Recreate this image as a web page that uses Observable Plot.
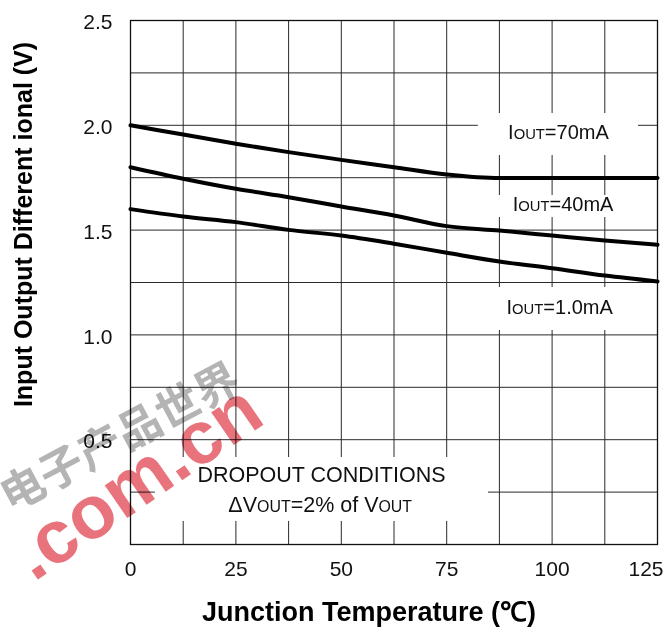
<!DOCTYPE html>
<html><head><meta charset="utf-8">
<script src="https://cdn.jsdelivr.net/npm/d3@7"></script>
<script src="https://cdn.jsdelivr.net/npm/@observablehq/plot@0.6"></script>
<style>
body{margin:0;background:#fff;}
svg{display:block;}
</style>
</head><body><div id="chart"></div>
<script>
// ---- data ----
const temps  = [0, 12.5, 25, 37.5, 50, 62.5, 75, 87.5, 100, 112.5, 125];
const iout70 = [2.00, 1.956, 1.912, 1.872, 1.835, 1.800, 1.765, 1.748, 1.748, 1.748, 1.748];
const iout40 = [1.80, 1.745, 1.697, 1.657, 1.613, 1.570, 1.519, 1.498, 1.474, 1.450, 1.430];
const iout1  = [1.60, 1.565, 1.538, 1.501, 1.474, 1.435, 1.392, 1.350, 1.318, 1.283, 1.255];
const seriesNames = ["IOUT=70mA", "IOUT=40mA", "IOUT=1.0mA"];

const xTicks = [0, 25, 50, 75, 100, 125];
const yTicks = [0.5, 1.0, 1.5, 2.0, 2.5];
const xGrid = [0, 12.5, 25, 37.5, 50, 62.5, 75, 87.5, 100, 112.5, 125];
const yGrid = [0, 0.25, 0.5, 0.75, 1.0, 1.25, 1.5, 1.75, 2.0, 2.25, 2.5];

// label anchors (data units)
const labelX = [101.5, 102.6, 101.8];
const labelY = [1.963, 1.62, 1.128];
const noteLines = ["DROPOUT CONDITIONS", "\u0394VOUT=2% of VOUT"];
const noteX = [45.3, 45.0];
const noteY = [0.332, 0.19];
// white label backgrounds that interrupt the grid (data units)
const boxX1 = [82.5, 86.6, 85.4, 5.9];
const boxX2 = [120.5, 116.2, 117.4, 84.9];
const boxY1 = [1.856, 1.56, 1.021, 0.11];
const boxY2 = [2.056, 1.665, 1.226, 0.415];

const xTitle = "Junction Temperature (\u2103)";
const yTitle = "Input Output Different ional (V)";
const watermarkText = [".com.cn", "电子产品世界"];
const watermarkX = [1.5, -2.4];
const watermarkY = [0.296, 0.506];

// ---- build tables ----
const seriesValues = [iout70, iout40, iout1];
const rows = seriesNames.flatMap((name, s) => temps.map((t, i) => ({series: name, t, v: seriesValues[s][i]})));
const labels = seriesNames.map((name, i) => ({text: name, x: labelX[i], y: labelY[i]}));
const notes = noteLines.map((text, i) => ({text, x: noteX[i], y: noteY[i]}));
const boxes = boxX1.map((x1, i) => ({x1, x2: boxX2[i], y1: boxY1[i], y2: boxY2[i]}));
const lastTick = xTicks[xTicks.length - 1];

const FONT = "'Liberation Sans', Arial, Helvetica, sans-serif";

const svg = Plot.plot({
  width: 672,
  height: 630,
  marginLeft: 130,
  marginRight: 15,
  marginTop: 20,
  marginBottom: 86,
  style: {fontFamily: FONT, background: "#fff", overflow: "visible"},
  x: {domain: [0, 125]},
  y: {domain: [0, 2.5]},
  marks: [
    Plot.ruleX(xGrid, {stroke: "#2a2a2a", strokeWidth: 1}),
    Plot.ruleY(yGrid, {stroke: "#2a2a2a", strokeWidth: 1}),
    Plot.rect(boxes, {x1: "x1", x2: "x2", y1: "y1", y2: "y2", fill: "#fff"}),
    Plot.frame({stroke: "#111", strokeWidth: 1.3}),
    Plot.line(rows, {x: "t", y: "v", z: "series", stroke: "#000", strokeWidth: 4,
      curve: "monotone-x", strokeLinecap: "round", strokeLinejoin: "round"}),
    Plot.axisX(xTicks.filter(d => d !== lastTick), {tickSize: 0, tickPadding: 17, fontSize: 21, label: null,
      tickFormat: d => String(d), fill: "#111"}),
    Plot.text([lastTick], {x: d => d, text: d => String(d), frameAnchor: "bottom", textAnchor: "end",
      dx: 6, dy: 17, lineAnchor: "top", fontSize: 21, fill: "#111"}),
    Plot.axisY({ticks: yTicks, tickSize: 0, tickPadding: 18, fontSize: 21, label: null,
      tickFormat: d3.format(".1f"), dy: 2, fill: "#111"}),
    Plot.text(labels, {x: "x", y: "y", text: "text", fontSize: 20, fill: "#111", lineAnchor: "middle"}),
    Plot.text(notes, {x: "x", y: "y", text: "text", fontSize: 21.5, fill: "#111", lineAnchor: "middle"}),
    Plot.text([xTitle], {frameAnchor: "bottom", dx: -25, dy: 68, fontSize: 27, fontWeight: "bold",
      fill: "#000", lineAnchor: "middle", textAnchor: "middle"}),
    Plot.text([yTitle], {frameAnchor: "left", rotate: -90, dx: -107, dy: -58, fontSize: 25,
      fontWeight: "bold", fill: "#000", lineAnchor: "middle", textAnchor: "middle"}),
    Plot.text([watermarkText[1]], {x: () => watermarkX[1], y: () => watermarkY[1], rotate: -28,
      fontSize: 44, fontWeight: "bold", fill: "#acacac", fillOpacity: 0.9,
      fontFamily: "'Noto Sans CJK SC', sans-serif", lineAnchor: "middle", mixBlendMode: "multiply"}),
    Plot.text([watermarkText[0]], {x: () => watermarkX[0], y: () => watermarkY[0], rotate: -34.5,
      fontSize: 75, fontWeight: "bold", fill: "#e9737c", lineAnchor: "middle", mixBlendMode: "multiply"})
  ]
});

// small-caps "OUT" rendering for IOUT / VOUT
d3.select(svg).selectAll("text").each(function() {
  const t = this.textContent;
  if (!/[IV]OUT/.test(t) || this.querySelector("tspan")) return;
  const parts = t.split(/(?<=[IV])(OUT)/);
  this.textContent = "";
  for (const p of parts) {
    if (!p) continue;
    const ts = document.createElementNS("http://www.w3.org/2000/svg", "tspan");
    ts.textContent = p;
    if (p === "OUT") ts.setAttribute("style", "font-size:0.74em");
    this.appendChild(ts);
  }
});

document.getElementById("chart").appendChild(svg);
</script>
</body></html>
